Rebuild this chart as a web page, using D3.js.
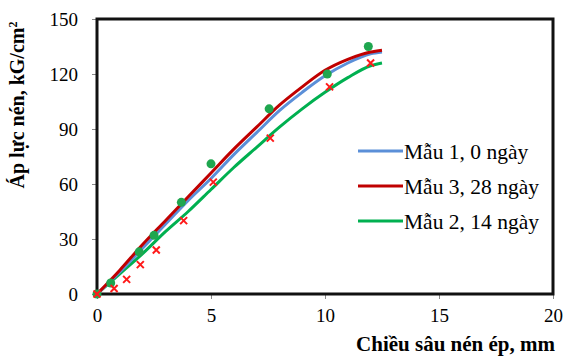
<!DOCTYPE html>
<html>
<head>
<meta charset="utf-8">
<script src="https://cdn.jsdelivr.net/npm/d3@7"></script>
<style>
  body { margin: 0; background: #fff; }
  svg text { font-family: "Liberation Serif", "DejaVu Serif", serif; }
</style>
</head>
<body>
<div class="chart"></div>
<script>
// fitted curves (x in mm, y in kG/cm2)
var curveX = [0, 1, 2, 3, 4, 5, 6, 7, 8, 9, 10, 11, 12, 12.5];
var mau1 = [0, 12, 25, 38, 51, 63, 76, 88, 100, 110, 119, 126, 131, 132];
var mau3 = [0, 13, 27, 40, 53, 66, 79, 91, 103, 113, 122, 128, 132, 133];
var mau2 = [0, 11, 22, 34, 45, 57, 69, 80, 91, 101, 110, 118, 124.5, 126];

// measured points
var dotX = [0, 0.6, 1.85, 2.5, 3.7, 5.0, 7.55, 10.1, 11.9];
var dotY = [0, 6, 23, 32, 50, 71, 101, 120, 135];
var crossX = [0, 0.75, 1.3, 1.9, 2.6, 3.8, 5.1, 7.6, 10.2, 12.0];
var crossY = [0, 3, 8, 16, 24, 40, 61, 85, 113, 126];

var xTicks = [0, 5, 10, 15, 20];
var yTicks = [0, 30, 60, 90, 120, 150];

var legendNames = ["Mẫu 1, 0 ngày", "Mẫu 3, 28 ngày", "Mẫu 2, 14 ngày"];
var legendColors = ["#5b8fd8", "#c00000", "#00b050"];

var svgWidth = 565;
var svgHeight = 358;
var margin = {top: 19, right: 12, bottom: 64, left: 97};
var chartWidth = svgWidth - margin.left - margin.right;
var chartHeight = svgHeight - margin.top - margin.bottom;

var svg = d3.select(".chart")
  .append("svg")
  .attr("width", svgWidth)
  .attr("height", svgHeight);

var chart = svg.append("g")
  .attr("transform", "translate(" + margin.left + "," + margin.top + ")");

var xScale = d3.scaleLinear().domain([0, 20]).range([0, chartWidth]);
var yScale = d3.scaleLinear().domain([0, 150]).range([chartHeight, 0]);

// axes with outside ticks
var bottomAxis = d3.axisBottom(xScale).tickValues(xTicks).tickSize(5).tickPadding(10);
var leftAxis = d3.axisLeft(yScale).tickValues(yTicks).tickSize(5).tickPadding(14);

var gx = chart.append("g")
  .attr("transform", "translate(0," + chartHeight + ")")
  .call(bottomAxis);
var gy = chart.append("g").call(leftAxis);

[gx, gy].forEach(function(g) {
  g.attr("font-family", null).attr("font-size", null);
  g.select(".domain").remove();
  g.selectAll(".tick line").attr("stroke", "#888").attr("stroke-width", 1);
  g.selectAll(".tick text")
    .attr("fill", "#000")
    .style("font-size", "19px");
});

// plot frame
chart.append("rect")
  .attr("x", 0)
  .attr("y", 0)
  .attr("width", chartWidth)
  .attr("height", chartHeight)
  .attr("fill", "none")
  .attr("stroke", "#111")
  .attr("stroke-width", 3);

var line = d3.line()
  .x(function(d) { return xScale(d[0]); })
  .y(function(d) { return yScale(d[1]); })
  .curve(d3.curveMonotoneX);

function pairs(ys) {
  return curveX.map(function(x, i) { return [x, ys[i]]; });
}

[[mau2, legendColors[2]], [mau1, legendColors[0]], [mau3, legendColors[1]]].forEach(function(s) {
  chart.append("path")
    .datum(pairs(s[0]))
    .attr("d", line)
    .attr("fill", "none")
    .attr("stroke", s[1])
    .attr("stroke-width", 3);
});

// green dots
chart.selectAll(".dot")
  .data(dotX.map(function(x, i) { return [x, dotY[i]]; }))
  .enter().append("circle")
  .attr("class", "dot")
  .attr("cx", function(d) { return xScale(d[0]); })
  .attr("cy", function(d) { return yScale(d[1]); })
  .attr("r", 4.5)
  .attr("fill", "#1fa64f");

// red crosses
chart.selectAll(".cross")
  .data(crossX.map(function(x, i) { return [x, crossY[i]]; }))
  .enter().append("path")
  .attr("class", "cross")
  .attr("transform", function(d) { return "translate(" + xScale(d[0]) + "," + yScale(d[1]) + ")"; })
  .attr("d", "M-3.5,-3.5L3.5,3.5M-3.5,3.5L3.5,-3.5")
  .attr("stroke", "#ff1a1a")
  .attr("stroke-width", 2)
  .attr("fill", "none");

// legend
var legend = svg.append("g").attr("transform", "translate(358,151)");
legendNames.forEach(function(name, i) {
  var row = legend.append("g").attr("transform", "translate(0," + (i * 35) + ")");
  row.append("line")
    .attr("x1", 0).attr("x2", 45)
    .attr("y1", 0).attr("y2", 0)
    .attr("stroke", legendColors[i])
    .attr("stroke-width", 3);
  row.append("text")
    .attr("x", 46)
    .attr("y", 8)
    .style("font-size", "21.5px")
    .text(name);
});

// axis titles
svg.append("text")
  .attr("x", 555)
  .attr("y", 351)
  .attr("text-anchor", "end")
  .style("font-size", "21px")
  .style("font-weight", "bold")
  .text("Chiều sâu nén ép, mm");

var yTitle = svg.append("text")
  .attr("transform", "translate(24,105) rotate(-90)")
  .attr("text-anchor", "middle")
  .style("font-size", "20px")
  .style("font-weight", "bold");
yTitle.append("tspan").text("Áp lực nén, kG/cm");
yTitle.append("tspan").attr("dy", -7).style("font-size", "12px").text("2");
</script>
</body>
</html>
